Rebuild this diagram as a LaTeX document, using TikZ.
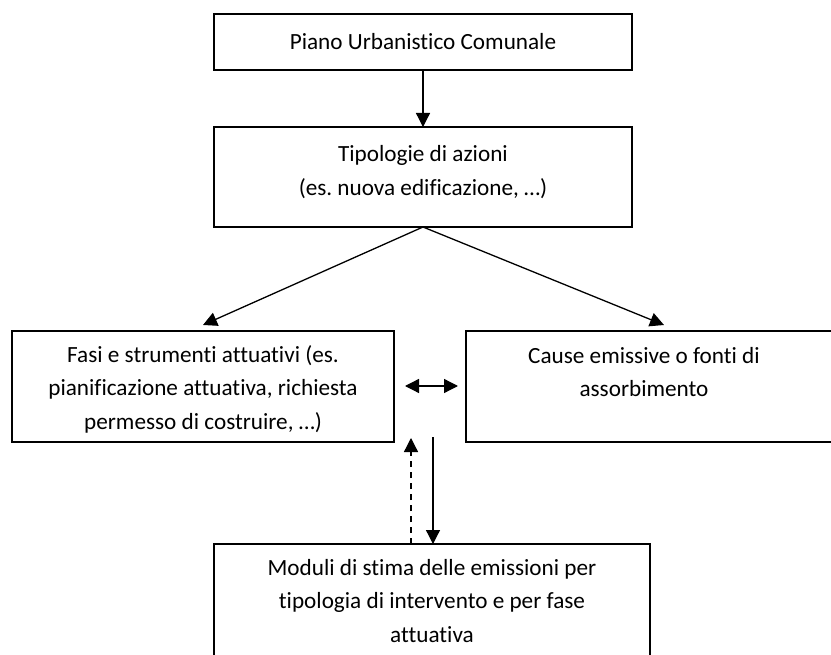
\documentclass[tikz,border=0pt]{standalone}
\usepackage{fontspec}
\setmainfont{Carlito}[Ligatures={NoCommon}]
\usetikzlibrary{arrows.meta}
\frenchspacing
\begin{document}
\begin{tikzpicture}[x=1pt,y=-1pt,
  box/.style={draw=black,line width=1.6pt,minimum width=#1,inner sep=0pt,outer sep=0pt},
  txt/.style={align=center,font=\fontsize{23.2}{33.5}\selectfont,inner sep=0pt},
  arr/.style={line width=1.3pt,-{Triangle[length=14pt,width=14pt]}},
  darr/.style={line width=1.3pt,{Triangle[length=14pt,width=14pt]}-{Triangle[length=14pt,width=14pt]}},
  dsh/.style={line width=1.3pt,dash pattern=on 6pt off 5pt,-{Triangle[length=14pt,width=14pt]}}]
\useasboundingbox (0,0) rectangle (831,655);
\fill[white] (0,0) rectangle (831,655);
% boxes
\node[box=418pt,minimum height=56pt] (b1) at (423,42) {};
\node[box=418pt,minimum height=100pt] (b2) at (423,177) {};
\node[box=382pt,minimum height=111pt] (b3) at (203,386.5) {};
\node[box=380pt,minimum height=111pt] (b4) at (656,386.5) {};
\node[box=436pt,minimum height=126pt] (b5) at (432,607) {};
% texts
\node[txt] (t1) at (423,42) {Piano Urbanistico Comunale};
\node[txt] (t2) at (423,172) {Tipologie di azioni\\(es. nuova edificazione, …)};
\node[txt] (t3) at (203,389) {Fasi e strumenti attuativi (es.\\pianificazione attuativa, richiesta\\permesso di costruire, …)};
\node[txt] (t4) at (644,372) {Cause emissive o fonti di\\assorbimento};
\node[txt] (t5) at (432,601) {Moduli di stima delle emissioni per\\tipologia di intervento e per fase\\attuativa};
% connector endpoints
\coordinate (l3) at (203,325);
\coordinate (r4) at (664,325);
\coordinate (dl) at (405,386);
\coordinate (dr) at (458,386);
\coordinate (up) at (411,438);
\coordinate (dn) at (433,437);
% connectors
\draw[arr] (b1.south) -- (b2.north);
\draw[arr] (b2.south) -- (l3);
\draw[arr] (b2.south) -- (r4);
\draw[darr] (dl) -- (dr);
\draw[dsh] (b5.north -| up) -- (up);
\draw[arr] (dn) -- (b5.north -| dn);
\end{tikzpicture}
\end{document}
